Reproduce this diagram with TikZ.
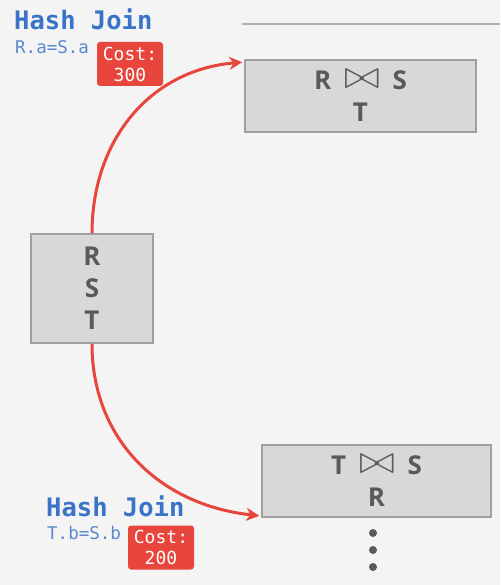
\documentclass[tikz,border=0pt]{standalone}
\usepackage{fontspec}
\setsansfont{Open Sans}
\newfontfamily\monof{DejaVu Sans Mono}
\usetikzlibrary{arrows.meta}
\definecolor{bg}{HTML}{F4F4F4}
\definecolor{boxfill}{HTML}{D8D8D8}
\definecolor{boxline}{HTML}{A0A0A0}
\definecolor{boxtext}{HTML}{5A5A5A}
\definecolor{hjblue}{HTML}{3A74C8}
\definecolor{condblue}{HTML}{5B89CF}
\definecolor{costred}{HTML}{E8453C}
\definecolor{rulegray}{HTML}{B0B0B0}
\tikzset{
  relbox/.style={draw=boxline, line width=1.5pt, fill=boxfill, text=boxtext,
    font=\sffamily\bfseries\fontsize{26}{32}\selectfont, align=center, inner sep=0pt},
  hjtitle/.style={text=hjblue, font=\monof\bfseries\fontsize{25.5}{28}\selectfont, inner sep=0pt, anchor=base west},
  hjcond/.style={text=condblue, font=\monof\fontsize{17.5}{20}\selectfont, inner sep=0pt, anchor=base west},
  costbox/.style={fill=costred, rounded corners=3pt, text=white, align=center,
    font=\monof\fontsize{18}{21}\selectfont, minimum width=66pt, minimum height=44pt, inner sep=0pt},
  arr/.style={draw=costred, line width=3pt, -{Stealth[length=13pt,width=13pt]}},
  vdot/.style={circle, fill=boxtext, minimum size=8pt, inner sep=0pt},
}
\newcommand{\bt}{\hspace{13pt}\raisebox{1pt}{\scalebox{1.75}[1.6]{$\bowtie$}}\hspace{13pt}}
\begin{document}
\begin{tikzpicture}[x=1pt,y=-1pt]
\useasboundingbox (0,0) rectangle (500,585);
\fill[bg] (0,0) rectangle (500,585);
\coordinate (ruleA) at (242,24);
\coordinate (ruleB) at (500,24);
\draw[rulegray, line width=2pt] (ruleA) -- (ruleB);

\node[relbox, minimum width=231pt, minimum height=72pt] (rs) at (360.5,96) {R\bt S\\T};
\node[relbox, minimum width=122pt, minimum height=109pt] (rst) at (92,288.5) {R\\S\\T};
\node[relbox, minimum width=229pt, minimum height=72pt] (ts) at (376.5,481) {T\bt S\\R};

\node[hjtitle] (hj1) at (14,30) {Hash Join};
\node[hjcond] (c1) at (15,54) {R.a=S.a};
\node[costbox] (cost1) at (130,64) {Cost:\\300};

\node[hjtitle] (hj2) at (46,516) {Hash Join};
\node[hjcond] (c2) at (47,539) {T.b=S.b};
\node[costbox] (cost2) at (161,547.5) {Cost:\\200};

\node[vdot] (d1) at (373,533) {};
\node[vdot] (d2) at (373,550) {};
\node[vdot] (d3) at (373,567) {};

\draw[arr] (rst.north) .. controls (92,140) and (150,70) .. ([shift={(-2,3)}]rs.north west);
\draw[arr] (rst.south) .. controls (92,440) and (160,505) .. ([shift={(-2,-2)}]ts.south west);
\end{tikzpicture}
\end{document}
